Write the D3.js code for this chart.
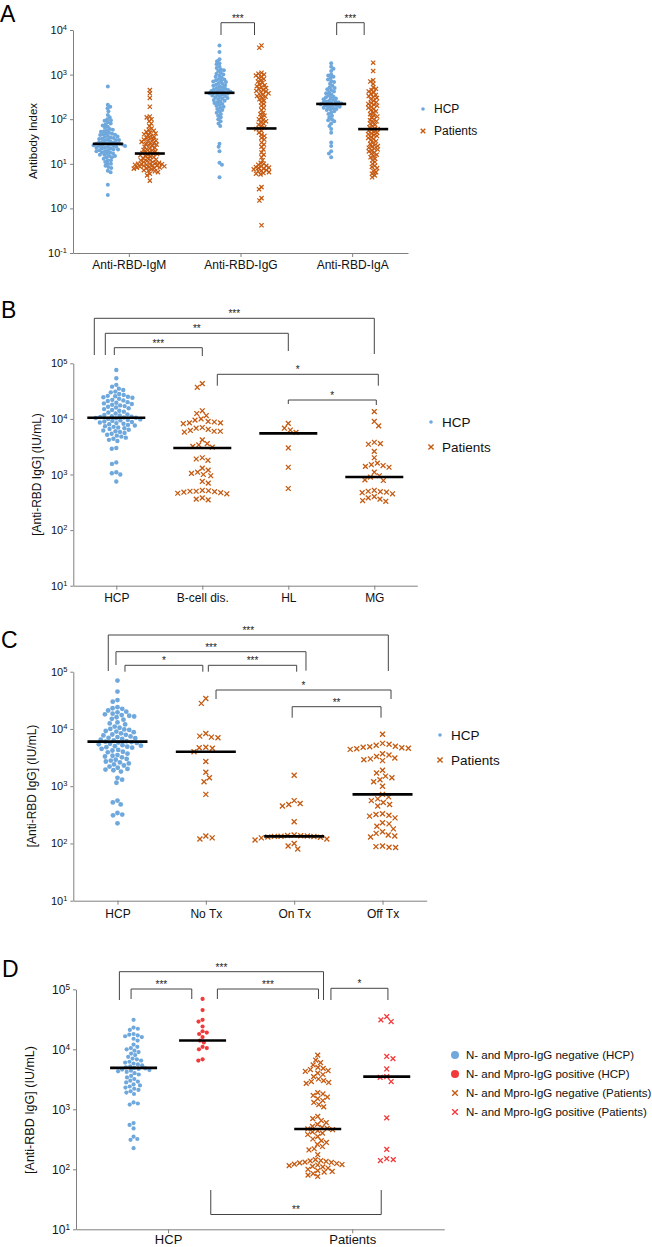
<!DOCTYPE html>
<html><head><meta charset="utf-8">
<script src="https://cdn.jsdelivr.net/npm/d3@7"></script>
<style>body{margin:0;background:#fff}svg{display:block}</style>
</head><body>
<svg id="chart" width="652" height="1247"></svg>
<script>
// ---------------- DATA ----------------
// Panel A
const A_categories = ["Anti-RBD-IgM", "Anti-RBD-IgG", "Anti-RBD-IgA"];
const A_groups = ["HCP", "Patients"];
const A_IgM_HCP = [540,210,190,175,150,125,110,100,95,92,85,80,76,72,68,64,60,58,56,54,52,50,48,47,46,45,44,42,41,40,39,38,37,36,35,34,34,33,32,31,30,30,29,29,28,28,28,27,27,26,26,25,25,25,24,24,23,23,22,22,21,21,20,20,19,19,18,18,17,17,16,16,15,15,14,14,13,12,12,11,10,10,9,8.5,8,7,6.5,3.4,2.0];
const A_IgM_Pat = [450,380,300,190,115,110,100,90,80,70,62,58,55,52,50,48,46,44,42,40,38,36,35,34,33,32,31,30,29,28,27,26,25,24,23,22,21,20.5,20,19,18.5,18,17.5,17,16.5,16,15.5,15,14.5,14,13.5,13,12.5,12,12,11.5,11,11,10.5,10.5,10,10,10,9.8,9.5,9.5,9.2,9,9,8.8,8.6,8.5,8.3,8.2,8,8,7.8,7.5,7.2,7,6.8,6.5,6,5.5,4.2];
const A_IgG_HCP = [4500,3200,2200,2000,1800,1700,1500,1400,1300,1250,1200,1100,1050,1000,950,900,850,800,780,750,720,700,680,650,620,600,580,560,540,520,500,480,470,460,450,440,430,420,410,400,390,385,380,370,360,350,340,330,320,310,300,290,280,270,260,250,240,230,220,210,200,190,180,170,160,150,140,130,120,110,100,90,80,70,28,24,19,10.5,9.5,5];
const A_IgG_Pat = [4500,4000,1100,1050,1000,950,900,850,800,750,700,650,600,580,550,520,500,480,450,430,420,400,380,360,340,330,320,300,280,260,240,220,200,180,160,140,130,120,110,100,95,90,85,80,75,70,65,62,60,55,50,45,42,38,35,30,27,24,21,18,16,14,12,10.5,10,9.5,9,8.8,8.5,8.2,8,7.8,7.5,7.2,7,6.8,6.5,6.2,6,5.8,3,2.7,1.7,1.5,0.42];
const A_IgA_HCP = [1800,1500,1350,1200,1000,950,900,850,780,720,680,620,560,520,500,470,450,420,400,380,360,340,320,310,300,290,280,270,260,250,245,240,235,230,225,220,215,210,205,200,195,190,185,180,175,170,165,160,150,140,130,120,110,100,95,90,80,70,60,50,30,25,19,17,14];
const A_IgA_Pat = [1850,1200,750,700,620,520,480,450,420,400,370,350,330,310,300,280,260,240,230,220,210,200,190,180,170,160,150,140,130,120,115,110,100,95,90,85,80,75,70,66,62,60,58,55,52,50,48,46,44,42,40,38,36,34,32,30,28,26,25,24,23,22,21,20,19,18,17,16,15,14,13,12,11,10,9,8.5,8,7,6.5,6,5.5,5];
const A_medians_HCP = [28, 390, 220];
const A_medians_Pat = [17, 62, 60];
const A_yExponents = [-1, 0, 1, 2, 3, 4];
const A_sig = ["***", "***"];

// Panel B
const B_categories = ["HCP", "B-cell dis.", "HL", "MG"];
const B_HCP = [76000,54000,41000,38000,35000,33000,31000,30000,28000,27000,26000,25500,25000,24500,24000,23000,22000,21500,21000,20000,19500,19000,18500,18000,17500,17000,16500,16000,15500,15000,14500,14000,13500,13000,12500,12000,11800,11500,11200,11000,10800,10600,10500,10400,10200,10000,9800,9600,9400,9200,9000,8800,8600,8400,8200,8000,7800,7600,7400,7200,7000,6800,6600,6400,6200,6000,5800,5600,5400,5200,5000,4800,4600,4400,4200,4000,3000,2900,1650,1550,1100,1050,1000,750];
const B_Bcell = [43000,37000,14000,12500,11500,10000,9500,9000,8800,8500,8500,8200,7000,6800,6500,6200,6000,6000,5800,4200,3600,3400,3200,3100,2000,1900,1800,1300,1200,1100,1050,1000,950,750,700,520,510,500,500,490,480,470,460,450,380,360,350];
const B_HL = [8300,6800,6300,5700,3000,1350,560];
const B_MG = [13500,9000,7500,3800,3600,3500,2600,2000,1600,1500,1450,1400,1350,1100,950,900,800,780,520,500,490,480,470,450,400,380,360,340,330];
const B_medians = [10500, 3000, 5500, 900];
const B_yExponents = [1, 2, 3, 4, 5];
const B_sig = ["***", "**", "***", "*", "*"];

// Panel C
const C_categories = ["HCP", "No Tx", "On Tx", "Off Tx"];
const C_HCP = [70000,45000,32000,30000,24000,23000,22500,21000,20000,19500,18500,18000,17500,17000,16500,16000,15000,14500,13000,12500,12000,11000,10500,10000,9800,9600,9200,9000,8800,8400,8000,7900,7700,7400,7200,7000,6900,6700,6500,6300,6100,6000,5900,5800,5700,5500,5400,5200,5100,5000,4900,4800,4700,4500,4300,4200,4000,3900,3700,3500,3400,3300,3200,3000,2900,2800,2700,2600,2500,2400,2300,2200,2100,2000,1950,1900,1800,1400,1300,1150,560,520,480,340,320,310,225];
const C_NoTx = [34000,28000,8300,7500,7200,7000,4800,4700,4600,4000,2700,1750,1400,1200,720,135,125,120];
const C_OnTx = [1550,560,500,480,450,240,140,138,136,135,134,133,132,130,128,125,120,115,100,90,80];
const C_OffTx = [8100,5600,5400,5200,5000,4900,4800,4700,4600,4500,4400,3700,3500,3300,3100,3000,2900,2800,1900,1700,1500,1400,1300,1200,1000,720,650,600,560,520,480,450,330,320,310,300,280,230,220,200,180,160,150,140,135,130,90,88,86,85];
const C_medians = [6000, 4000, 133, 720];
const C_yExponents = [1, 2, 3, 4, 5];
const C_sig = ["***", "***", "*", "***", "*", "**"];

// Panel D
const D_categories = ["HCP", "Patients"];
const D_subgroups = ["N- and Mpro-IgG negative", "N- and Mpro-IgG positive"];
const D_HCP_neg = [31000,23000,22000,21000,18000,17500,17000,16500,16000,15000,14000,12000,11000,10500,10000,9500,9000,8500,8000,7500,7000,6800,6500,6200,6000,5800,5600,5400,5200,5000,4900,4800,4700,4600,4500,4400,4300,4200,4000,3800,3600,3400,3200,3000,2900,2800,2600,2500,2400,2300,2200,2100,2000,1900,1800,1300,1250,1200,590,550,480,350,320,310,225];
const D_HCP_pos = [69000,45000,31000,29000,24000,20000,19000,18000,16000,14000,13000,11000,10500,10000,6800,6500];
const D_Pat_neg = [8000,6600,6000,5500,5000,4800,4600,4400,4300,4000,3800,3500,3200,3000,2900,2800,2700,1900,1800,1700,1600,1500,1400,1300,1200,1100,760,700,650,600,560,520,500,480,470,460,440,420,400,380,350,320,300,280,260,240,220,210,175,145,140,138,135,132,130,128,125,122,120,118,115,112,110,105,100,95,92,90,85,80,76];
const D_Pat_pos = [35000,31000,29000,7600,7000,4700,3500,3400,2900,720,215,150,145,140];
const D_medians = [4900, 14000, 470, 3500];
const D_yExponents = [1, 2, 3, 4, 5];
const D_sig = ["***", "***", "***", "*", "**"];
const D_legend = ["N- and Mpro-IgG negative (HCP)", "N- and Mpro-IgG positive (HCP)", "N- and Mpro-IgG negative (Patients)", "N- and Mpro-IgG positive (Patients)"];

// ---------------- STYLE / LAYOUT ----------------
const FONT = "'Liberation Sans', Arial, sans-serif";
const BLUE = "#6fa8dc", ORANGE = "#c55a11", RED = "#f23a3a";
const AXIS = "#808080", BRK = "#444";
const svg = d3.select("#chart");

function swarm(vals, yS, d) {
  const pts = vals.map(v => ({v, y: yS(v)})).sort((a, b) => a.y - b.y);
  const placed = [];
  pts.forEach((p, i) => {
    const forb = [];
    for (const q of placed) {
      const dy = Math.abs(q.y - p.y);
      if (dy < d) { const w = Math.sqrt(d * d - dy * dy); forb.push([q.x - w, q.x + w]); }
    }
    const cands = [0];
    forb.forEach(([a, b]) => cands.push(a, b));
    cands.sort((a, b) => (Math.abs(a) - Math.abs(b)) || (i % 2 ? a - b : b - a));
    for (const c of cands) {
      if (forb.every(([a, b]) => c <= a + 1e-6 || c >= b - 1e-6)) { p.x = c; break; }
    }
    placed.push(p);
  });
  return pts;
}

function drawMarks(g, vals, yS, cx, shape, color, opt) {
  const pts = swarm(vals, yS, opt.d);
  if (shape === "dot") {
    g.append("g").selectAll("circle").data(pts).join("circle")
      .attr("cx", p => cx + p.x).attr("cy", p => p.y).attr("r", opt.r).attr("fill", color);
  } else {
    const a = opt.a;
    g.append("g").selectAll("path").data(pts).join("path")
      .attr("d", p => `M${cx + p.x - a},${p.y - a}L${cx + p.x + a},${p.y + a}M${cx + p.x - a},${p.y + a}L${cx + p.x + a},${p.y - a}`)
      .attr("stroke", color).attr("stroke-width", opt.sw).attr("fill", "none");
  }
}

function medianLine(g, cx, y, w) {
  g.append("line").attr("x1", cx - w / 2).attr("x2", cx + w / 2).attr("y1", y).attr("y2", y)
    .attr("stroke", "#000").attr("stroke-width", 2.6);
}

function yAxis(g, yS, exps, x0, fs) {
  const ax = g.append("g").attr("transform", `translate(${x0},0)`)
    .call(d3.axisLeft(yS).tickValues(exps.map(e => Math.pow(10, e))).tickSize(3).tickSizeOuter(0).tickPadding(3));
  ax.select(".domain").attr("stroke", AXIS);
  ax.selectAll(".tick line").attr("stroke", AXIS);
  ax.selectAll(".tick text").attr("font-family", FONT).attr("font-size", fs).attr("fill", "#111")
    .each(function (d) {
      const e = Math.round(Math.log10(d));
      const t = d3.select(this); t.text(null);
      t.append("tspan").text("10");
      t.append("tspan").attr("dy", "-0.5em").attr("font-size", fs * 0.68).text(e < 0 ? "-" + (-e) : e);
    });
}

function xAxis(g, xS, y0, fs, pad) {
  const ax = g.append("g").attr("transform", `translate(0,${y0})`)
    .call(d3.axisBottom(xS).tickSize(4).tickSizeOuter(0).tickPadding(pad));
  ax.select(".domain").attr("stroke", AXIS);
  ax.selectAll(".tick line").attr("stroke", AXIS);
  ax.selectAll(".tick text").attr("font-family", FONT).attr("font-size", fs).attr("fill", "#111");
}

function yLabel(g, text, x, yc, fs) {
  g.append("text").attr("transform", `translate(${x},${yc}) rotate(-90)`).attr("text-anchor", "middle")
    .attr("font-family", FONT).attr("font-size", fs).attr("fill", "#111").text(text);
}

function panelLetter(text, x, y) {
  svg.append("text").attr("x", x).attr("y", y).attr("font-family", FONT)
    .attr("font-size", 23).attr("fill", "#000").text(text);
}

function bracket(g, x1, x2, top, b1, b2, label) {
  g.append("path").attr("d", `M${x1},${b1}V${top}H${x2}V${b2}`).attr("fill", "none")
    .attr("stroke", BRK).attr("stroke-width", 1);
  g.append("text").attr("x", (x1 + x2) / 2).attr("y", top - 1).attr("text-anchor", "middle")
    .attr("font-family", FONT).attr("font-size", 10).attr("fill", "#222").text(label);
}

function legendItem(g, x, y, shape, color, text, fs, size) {
  if (shape === "dot") g.append("circle").attr("cx", x).attr("cy", y).attr("r", size).attr("fill", color);
  else g.append("path").attr("d", `M${x - size},${y - size}L${x + size},${y + size}M${x - size},${y + size}L${x + size},${y - size}`)
    .attr("stroke", color).attr("stroke-width", 1.4).attr("fill", "none");
  g.append("text").attr("x", x + 11).attr("y", y).attr("dy", "0.36em")
    .attr("font-family", FONT).attr("font-size", fs).attr("fill", "#111").text(text);
}

// ---------------- PANEL A ----------------
(function () {
  const g = svg.append("g");
  const y = d3.scaleLog().domain([1e-1, 1e4]).range([253, 30]);
  const x = d3.scalePoint().domain(A_categories).range([73, 408]).padding(0.5);
  const sub = d3.scalePoint().domain(A_groups).range([-21, 21]);
  const hcp = [A_IgM_HCP, A_IgG_HCP, A_IgA_HCP];
  const pat = [A_IgM_Pat, A_IgG_Pat, A_IgA_Pat];
  A_categories.forEach((c, i) => {
    const cx1 = x(c) + sub("HCP"), cx2 = x(c) + sub("Patients");
    drawMarks(g, hcp[i], y, cx1, "dot", BLUE, {d: 3.1, r: 2.0});
    drawMarks(g, pat[i], y, cx2, "x", ORANGE, {d: 3.2, a: 2.1, sw: 1.2});
    medianLine(g, cx1, y(A_medians_HCP[i]), 30);
    medianLine(g, cx2, y(A_medians_Pat[i]), 30);
  });
  yAxis(g, y, A_yExponents, 73, 11);
  xAxis(g, x, 253, 12, 3);
  yLabel(g, "Antibody Index", 37, 141, 11.5);
  panelLetter("A", 0, 22);
  bracket(g, x("Anti-RBD-IgG") + sub("HCP") + 1.5, x("Anti-RBD-IgG") + sub("Patients") - 7, 22.7, 35, 35, A_sig[0]);
  bracket(g, x("Anti-RBD-IgA") + sub("HCP") + 5.5, x("Anti-RBD-IgA") + sub("Patients") - 9, 22.7, 35, 35, A_sig[1]);
  legendItem(g, 423, 109, "dot", BLUE, "HCP", 12, 1.8);
  legendItem(g, 423, 131, "x", ORANGE, "Patients", 12, 2.3);
})();

// ---------------- PANEL B ----------------
(function () {
  const g = svg.append("g");
  const y = d3.scaleLog().domain([10, 1e5]).range([585.7, 363.3]);
  const x = d3.scalePoint().domain(B_categories).range([73.3, 417.3]).padding(0.5);
  const vals = [B_HCP, B_Bcell, B_HL, B_MG];
  B_categories.forEach((c, i) => {
    if (i === 0) drawMarks(g, vals[i], y, x(c), "dot", BLUE, {d: 4.6, r: 2.2});
    else drawMarks(g, vals[i], y, x(c), "x", ORANGE, {d: 6.2, a: 2.4, sw: 1.3});
    medianLine(g, x(c), y(B_medians[i]), 58);
  });
  yAxis(g, y, B_yExponents, 73.3, 11);
  xAxis(g, x, 585.7, 12, 4);
  yLabel(g, "[Anti-RBD IgG] (IU/mL)", 40.5, 474.5, 12);
  panelLetter("B", 1, 318);
  const X = c => x(c);
  bracket(g, X("HCP") - 22, X("MG"), 318.3, 355, 354, B_sig[0]);
  bracket(g, X("HCP") - 11, X("HL"), 333.3, 355, 351, B_sig[1]);
  bracket(g, X("HCP") - 2, X("B-cell dis."), 347.7, 355, 356, B_sig[2]);
  bracket(g, X("B-cell dis.") + 15, X("MG") + 4, 374.3, 385.7, 385.7, B_sig[3]);
  bracket(g, X("HL"), X("MG") + 2, 400, 404, 405, B_sig[4]);
  legendItem(g, 431, 422, "dot", BLUE, "HCP", 13.5, 1.8);
  legendItem(g, 431, 447, "x", ORANGE, "Patients", 13.5, 2.6);
})();

// ---------------- PANEL C ----------------
(function () {
  const g = svg.append("g");
  const y = d3.scaleLog().domain([10, 1e5]).range([900.7, 671.7]);
  const x = d3.scalePoint().domain(C_categories).range([73.3, 426.7]).padding(0.5);
  const vals = [C_HCP, C_NoTx, C_OnTx, C_OffTx];
  C_categories.forEach((c, i) => {
    if (i === 0) drawMarks(g, vals[i], y, x(c), "dot", BLUE, {d: 5.0, r: 2.4});
    else drawMarks(g, vals[i], y, x(c), "x", ORANGE, {d: 6.6, a: 2.5, sw: 1.3});
    medianLine(g, x(c), y(C_medians[i]), 60);
  });
  yAxis(g, y, C_yExponents, 73.3, 11);
  xAxis(g, x, 900.7, 12, 5);
  yLabel(g, "[Anti-RBD IgG] (IU/mL)", 36, 786, 12);
  panelLetter("C", 1, 648);
  const X = c => x(c);
  bracket(g, X("HCP") - 9.2, X("Off Tx") + 5.8, 635, 671, 671, C_sig[0]);
  bracket(g, X("HCP") - 1.5, X("On Tx") + 11.8, 651.7, 665, 670.7, C_sig[1]);
  bracket(g, X("HCP") + 7.5, X("No Tx") - 3, 665.3, 671.7, 671.7, C_sig[2]);
  bracket(g, X("No Tx") + 2.5, X("On Tx") + 2.5, 665.3, 671.7, 671.7, C_sig[3]);
  bracket(g, X("No Tx") + 10.2, X("Off Tx") + 8.5, 690, 699, 699, C_sig[4]);
  bracket(g, X("On Tx") - 2, X("Off Tx") - 1.5, 706.7, 717.7, 717.7, C_sig[5]);
  legendItem(g, 440, 735, "dot", BLUE, "HCP", 13.5, 1.8);
  legendItem(g, 440, 760, "x", ORANGE, "Patients", 13.5, 2.6);
})();

// ---------------- PANEL D ----------------
(function () {
  const g = svg.append("g");
  const y = d3.scaleLog().domain([10, 1e5]).range([1229.3, 989.3]);
  const x = d3.scalePoint().domain(D_categories).range([76, 444.3]).padding(0.5);
  const sub = d3.scalePoint().domain(D_subgroups).range([-34.5, 34.5]);
  const neg = D_subgroups[0], pos = D_subgroups[1];
  const hn = x("HCP") + sub(neg), hp = x("HCP") + sub(pos), pn = x("Patients") + sub(neg), pp = x("Patients") + sub(pos);
  drawMarks(g, D_HCP_neg, y, hn, "dot", BLUE, {d: 4.4, r: 2.1});
  drawMarks(g, D_HCP_pos, y, hp, "dot", RED, {d: 4.4, r: 2.1});
  drawMarks(g, D_Pat_neg, y, pn, "x", ORANGE, {d: 5.4, a: 2.4, sw: 1.3});
  drawMarks(g, D_Pat_pos, y, pp, "x", RED, {d: 6.6, a: 2.4, sw: 1.3});
  [hn, hp, pn, pp].forEach((cx, i) => medianLine(g, cx, y(D_medians[i]), 47));
  yAxis(g, y, D_yExponents, 76, 12);
  xAxis(g, x, 1229.3, 13, 1.2);
  yLabel(g, "[Anti-RBD IgG] (IU/mL)", 34, 1110, 12.5);
  panelLetter("D", 2, 977);
  bracket(g, hn - 14.2, pn + 5.8, 971.7, 1000, 1000, D_sig[0]);
  bracket(g, hn - 2.5, hp - 10.8, 989, 999, 999, D_sig[1]);
  bracket(g, hp + 14.8, pn + 0.8, 989, 999, 999, D_sig[2]);
  bracket(g, pn + 13.2, pp + 1.2, 988.3, 1000, 1000, D_sig[3]);
  // bottom bracket (opens upward)
  g.append("path").attr("d", `M${hp + 8.2},1190V1214.5H${pp - 5.5}V1190`).attr("fill", "none").attr("stroke", BRK).attr("stroke-width", 1);
  g.append("text").attr("x", (hp + 8.2 + pp - 5.5) / 2).attr("y", 1213).attr("text-anchor", "middle")
    .attr("font-family", FONT).attr("font-size", 10).attr("fill", "#222").text(D_sig[4]);
  const lx = 455, ly = [1055, 1074, 1093, 1112];
  legendItem(g, lx, ly[0], "dot", BLUE, D_legend[0], 11.5, 4);
  legendItem(g, lx, ly[1], "dot", RED, D_legend[1], 11.5, 4);
  legendItem(g, lx, ly[2], "x", ORANGE, D_legend[2], 11.5, 2.8);
  legendItem(g, lx, ly[3], "x", RED, D_legend[3], 11.5, 2.8);
})();
</script>
</body></html>
